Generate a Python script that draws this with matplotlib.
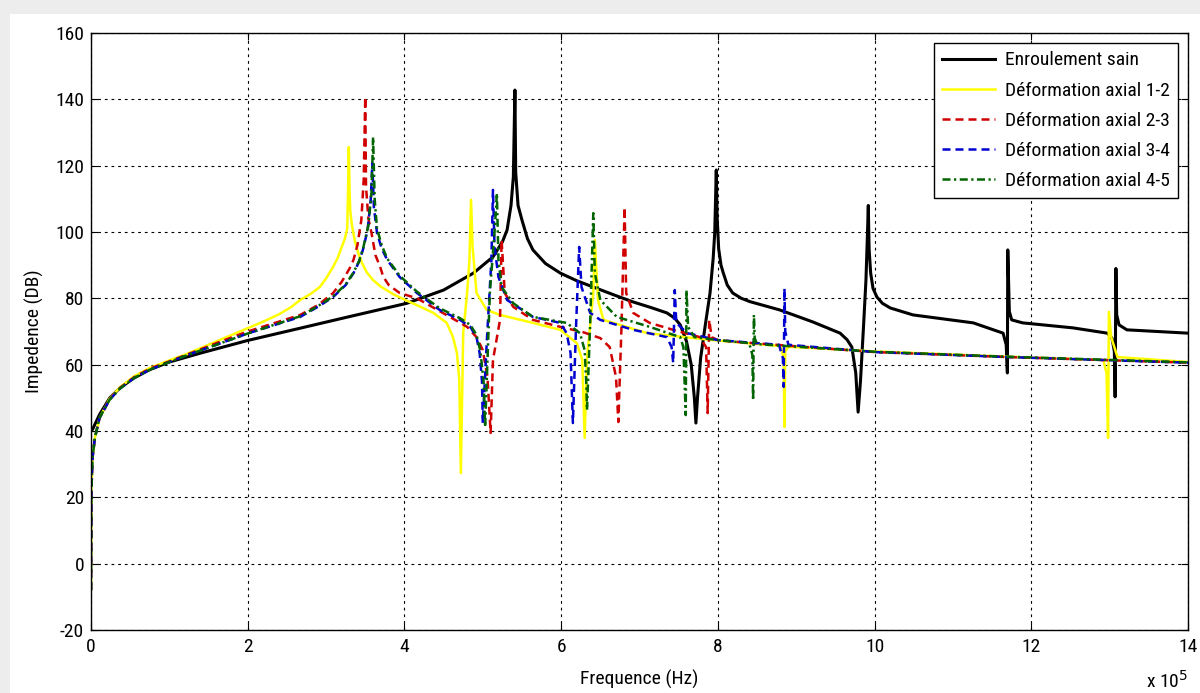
import matplotlib
matplotlib.use("Agg")
import matplotlib.pyplot as plt
from matplotlib.patches import Rectangle

# Frequency in units of 1e5 Hz, impedance in dB
sain_x = [0, 0.02, 0.05, 0.11, 0.24, 0.37, 0.55, 0.75, 1.0, 1.4, 2.0, 2.67, 3.3, 4.03, 4.5, 4.88, 5.13, 5.25,
          5.31, 5.36, 5.39, 5.41, 5.42, 5.45, 5.5, 5.57, 5.64, 5.8, 5.99, 6.2, 6.41, 6.7, 6.92, 7.15, 7.35,
          7.45, 7.52, 7.6, 7.66, 7.70, 7.72, 7.74, 7.78, 7.84, 7.9, 7.94, 7.96, 7.98, 7.99, 8.01, 8.04,
          8.07, 8.12, 8.19, 8.3, 8.41, 8.79, 9.21, 9.56, 9.65, 9.71, 9.76, 9.79, 9.82, 9.86, 9.89, 9.91,
          9.92, 9.93, 9.95, 9.98, 10.03, 10.1, 10.2, 10.49, 11.26, 11.64, 11.68, 11.695, 11.70, 11.72,
          11.75, 11.89, 12.53, 12.97, 13.03, 13.06, 13.07, 13.08, 13.09, 13.12, 13.22, 14.0]
sain_y = [40, 40.5, 42, 45, 50, 53, 56, 58.5, 60.8, 63.5, 67.3, 71, 74.5, 78.5, 82.5, 87.6, 92.5, 97,
          100.6, 108, 116.6, 142.8, 118, 108, 103.6, 98, 94.6, 90.5, 87.6, 85.3, 83.4, 80.8, 78.9, 77.2, 75.6,
          74, 72, 67, 60, 50, 42.4, 50, 62, 72, 81.6, 92, 99.7, 118.7, 105, 95, 90,
          87.6, 84, 81.6, 80, 79, 76.5, 72.9, 69.5, 67.5, 65.3, 57.5, 45.7, 55, 72, 85.5, 100,
          108, 95, 87.6, 83, 80.4, 78.5, 77.1, 75, 72.6, 69.5, 66, 57.5, 94.6, 76,
          73.5, 72.6, 71.1, 69.5, 68, 64, 50.3, 89, 75, 72, 70.5, 69.5]

d12_x = [0, 0.005, 0.02, 0.05, 0.11, 0.24, 0.37, 0.55, 0.75, 1.0, 1.22, 1.6, 2.0, 2.2, 2.4, 2.55, 2.67, 2.8,
         2.92, 3.0, 3.09, 3.15, 3.2, 3.24, 3.27, 3.28, 3.29, 3.30, 3.31, 3.33, 3.37, 3.42, 3.46, 3.52, 3.6,
         3.7, 3.86, 4.03, 4.2, 4.37, 4.54, 4.62, 4.67, 4.70, 4.72, 4.75, 4.8, 4.83, 4.85, 4.87, 4.92, 5.05,
         5.22, 5.64, 5.99, 6.2, 6.27, 6.30, 6.33, 6.41, 6.43, 6.47, 6.54, 7.1, 7.94, 8.8, 8.84, 8.85, 8.86,
         8.9, 10.0, 11.7, 12.92, 12.96, 12.98, 12.99, 13.02, 13.1, 14.0]
d12_y = [-8, 22, 32, 38, 44, 49.8, 53.2, 56.5, 59, 61.3, 63.2, 67, 71, 73, 75.2, 77.3, 79.5, 81.3,
         83.4, 86, 89.5, 92.3, 95.5, 98, 101, 111.7, 125.6, 112, 106, 102, 97, 93, 90.6, 87.8, 85.5,
         83.5, 81.2, 79.3, 77.5, 75.6, 72.6, 68.3, 63.5, 55.4, 27.3, 69.5, 81.6, 91.6, 109.7, 95.5, 81.6, 76.5,
         75, 72.6, 70.5, 66.5, 61.4, 37.9, 62, 81.6, 97.6, 79.5, 73.5, 69.5, 67.4, 65.6, 62, 41.2, 64,
         65.4, 64, 62.4, 61.4, 57.5, 37.9, 75.9, 68.3, 62.3, 60.8]

d23_x = [0, 0.005, 0.02, 0.05, 0.11, 0.24, 0.37, 0.55, 0.75, 1.0, 1.22, 1.6, 2.0, 2.67, 2.9, 3.09, 3.2, 3.3,
         3.35, 3.4, 3.45, 3.48, 3.50, 3.51, 3.54, 3.58, 3.63, 3.69, 3.73, 3.8, 3.94, 4.16, 4.58, 4.8, 4.92,
         5.0, 5.06, 5.1, 5.13, 5.22, 5.24, 5.28, 5.39, 5.64, 5.99, 6.28, 6.5, 6.62, 6.70, 6.73, 6.77, 6.81,
         6.83, 6.92, 7.13, 7.43, 7.77, 7.85, 7.87, 7.89, 7.92, 8.0, 8.28, 10.0, 11.69, 14.0]
d23_y = [-8, 22, 32, 38, 44, 49.6, 53, 56.2, 58.8, 61, 63, 66.5, 70, 75, 78, 81.6, 85, 89,
         91.6, 96, 103.6, 115.7, 140.7, 113.6, 104, 99.7, 93, 89.5, 86.5, 84, 81.6, 80, 74.4, 71.4, 68.3,
         64.4, 56.3, 39.4, 61.4, 73.5, 97.6, 81.6, 77.4, 73.5, 71.4, 69.8, 68, 65.3, 56.3, 42.7, 71.4, 107.5,
         81.6, 75.6, 72.6, 70.5, 68.3, 65.3, 45.4, 73.5, 68.3, 67.4, 66.8, 63.8, 62.3, 60.6]

d34_x = [0, 0.005, 0.02, 0.05, 0.11, 0.24, 0.37, 0.55, 0.75, 1.0, 1.22, 1.6, 2.0, 2.67, 2.9, 3.09, 3.25, 3.35,
         3.42, 3.47, 3.53, 3.57, 3.59, 3.61, 3.65, 3.71, 3.78, 3.94, 4.16, 4.45, 4.71, 4.84, 4.92, 4.96, 4.99,
         5.0, 5.05, 5.11, 5.13, 5.15, 5.2, 5.31, 5.64, 5.99, 6.07, 6.12, 6.15, 6.19, 6.23, 6.26, 6.37, 6.5,
         6.92, 7.35, 7.41, 7.43, 7.45, 7.47, 7.61, 8.0, 8.78, 8.83, 8.84, 8.85, 8.86, 8.9, 10.0, 11.69, 14.0]
d34_y = [-8, 22, 32, 38, 44, 49.5, 52.8, 56, 58.5, 60.8, 62.8, 66, 69.4, 74.4, 77.5, 80.4, 84, 87.6,
         91, 94.6, 100.6, 109.7, 120.8, 107.5, 99.7, 95, 91.6, 86.4, 81.6, 76.5, 73.5, 71.4, 68.3, 63.5, 55,
         42.4, 66.5, 91.6, 112.7, 95.5, 86.4, 79.5, 74.4, 72.6, 69.5, 63.5, 42.4, 71.4, 95.5, 83.4, 75.6, 73.5,
         70.5, 68.3, 65.3, 60.5, 82.5, 72.6, 69.5, 67.4, 66, 62, 53.3, 83, 70, 66, 63.8, 62.3, 60.6]

d45_x = [0, 0.005, 0.02, 0.05, 0.11, 0.24, 0.37, 0.55, 0.75, 1.0, 1.22, 1.6, 2.0, 2.67, 2.9, 3.09, 3.25, 3.35,
         3.42, 3.47, 3.54, 3.58, 3.60, 3.62, 3.65, 3.71, 3.78, 3.94, 4.16, 4.45, 4.71, 4.84, 4.92, 4.97, 5.01,
         5.03, 5.09, 5.15, 5.18, 5.20, 5.24, 5.39, 5.64, 6.07, 6.24, 6.30, 6.32, 6.33, 6.37, 6.41, 6.43, 6.5,
         6.71, 7.13, 7.52, 7.56, 7.59, 7.60, 7.62, 7.7, 8.0, 8.4, 8.44, 8.45, 8.46, 8.47, 8.5, 10.0, 11.69,
         14.0]
d45_y = [-8, 22, 32, 38, 44, 49.5, 52.8, 56, 58.5, 60.8, 62.8, 66, 69.4, 74.6, 77.7, 80.6, 84.2, 87.8,
         91.2, 94.8, 102, 112, 128.6, 110, 101, 96, 92, 86.8, 82, 77, 74, 72, 69, 64, 55,
         41.2, 81.6, 100, 111.7, 91.6, 83.4, 78.5, 74.4, 72.6, 69.5, 64.4, 55, 46.3, 72, 105.7, 87.6, 79.5,
         74.4, 71.4, 68.3, 65.3, 44.8, 82.5, 71.4, 68.3, 67.4, 66.5, 63, 49.3, 75, 68, 66.2, 63.9, 62.4,
         60.7]

labels = ["Enroulement sain", "Déformation axial 1-2", "Déformation axial 2-3",
          "Déformation axial 3-4", "Déformation axial 4-5"]
x_ticks = [0, 2, 4, 6, 8, 10, 12, 14]
y_ticks = [-20, 0, 20, 40, 60, 80, 100, 120, 140, 160]

plt.rcParams['font.family'] = ['Roboto Condensed', 'DejaVu Sans']
plt.rcParams['axes.unicode_minus'] = False

fig = plt.figure(figsize=(12, 6.93), dpi=100, facecolor='#ededed')
fig.patches.append(Rectangle((10/1200, 0), 1.0, 1 - 14/693, transform=fig.transFigure,
                             facecolor='white', edgecolor='none', zorder=-10))
ax = fig.add_axes([91/1200, 1 - 630/693, (1188 - 91)/1200, (630 - 33)/693])

ax.plot(sain_x, sain_y, color='black', lw=2.2, label=labels[0])
ax.plot(d12_x, d12_y, color='#ffff00', lw=1.8, label=labels[1])
ax.plot(d23_x, d23_y, color='#d00000', lw=1.8, ls=(0, (3.2, 2.0)), label=labels[2])
ax.plot(d34_x, d34_y, color='#0000d0', lw=1.8, ls=(0, (3.2, 2.0)), label=labels[3])
ax.plot(d45_x, d45_y, color='#006400', lw=1.8, ls=(0, (3.2, 1.4, 0.9, 1.4)), label=labels[4])

ax.set_xlim(0, 14)
ax.set_ylim(-20, 160)
ax.set_xticks(x_ticks)
ax.set_yticks(y_ticks)
ax.tick_params(direction='in', top=True, right=True, length=5, width=0.8, labelsize=14, colors='black')
ax.tick_params(axis='x', pad=6)
ax.tick_params(axis='y', pad=5)
ax.grid(True, color='black', linestyle=(0, (2.5, 3.5)), linewidth=0.8)
for s in ax.spines.values():
    s.set_linewidth(1.0)
ax.set_xlabel("Frequence (Hz)", fontsize=14, labelpad=10)
ax.set_ylabel("Impedence (DB)", fontsize=14, labelpad=8)
fig.text(1146/1200, 1 - 692/693, "x 10$^5$", fontsize=14, ha='left', va='bottom')

leg = ax.legend(loc='upper right', fontsize=14, fancybox=False, edgecolor='black', framealpha=1,
                handlelength=2.7, labelspacing=0.62, borderaxespad=0.5, handletextpad=0.5,
                borderpad=0.45)
leg.get_frame().set_linewidth(1.0)

fig.savefig("out.png", dpi=100, facecolor=fig.get_facecolor())
